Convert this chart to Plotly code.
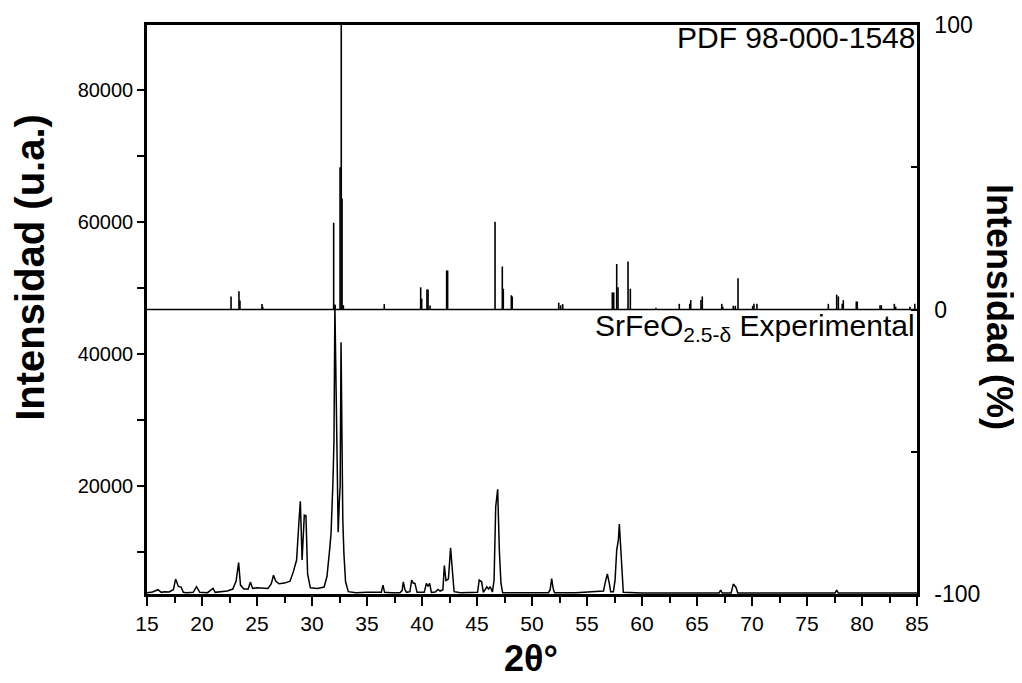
import plotly.graph_objects as go

# ---------------- data ----------------
# Experimental pattern (2theta in degrees, intensity in a.u.)
exp_2theta = [15.0, 15.5, 16.0, 16.3, 16.6, 17.0, 17.4, 17.6, 17.7, 17.85, 18.1, 18.3, 18.6,
              19.2, 19.5, 19.8, 20.5, 21.0, 21.2, 21.8, 22.3, 22.8, 23.1, 23.33, 23.5, 23.8,
              24.2, 24.4, 24.6, 25.0, 25.5, 26.0, 26.3, 26.5, 26.7, 27.0, 27.5, 28.0, 28.3,
              28.6, 28.8, 28.94, 29.1, 29.3, 29.45, 29.6, 29.85, 30.5, 31.1, 31.36, 31.6,
              31.73, 31.9, 32.0, 32.08, 32.18, 32.26, 32.38, 32.48, 32.56, 32.64, 32.72,
              32.8, 32.9, 33.05, 33.3, 34.0, 35.0, 35.8, 36.3, 36.45, 36.6, 37.2, 38.0,
              38.2, 38.3, 38.45, 38.6, 38.9, 39.06, 39.2, 39.36, 39.55, 40.2, 40.4, 40.55,
              40.7, 40.85, 41.2, 41.45, 41.65, 41.9, 42.03, 42.18, 42.4, 42.6, 42.79, 42.92,
              43.5, 44.5, 45.05, 45.2, 45.42, 45.58, 45.9, 46.05, 46.2, 46.4, 46.55, 46.7,
              46.88, 47.03, 47.18, 47.33, 48.5, 50.0, 51.5, 51.65, 51.79, 51.92, 52.05,
              54.0, 55.7, 56.2, 56.5, 56.64, 56.85, 57.03, 57.15, 57.4, 57.55, 57.7, 57.85,
              57.94, 58.06, 58.18, 58.3, 60.0, 62.5, 65.0, 67.0, 67.15, 67.3, 68.1, 68.3,
              68.55, 68.7, 70.0, 72.5, 75.0, 77.55, 77.7, 77.85, 80.0, 82.5, 85.0]
exp_intensity = [3850, 3950, 4300, 3900, 4000, 3950, 4300, 5900, 5500, 4800, 4700, 3900, 3850,
                 3900, 4750, 3900, 3850, 4500, 3900, 3950, 4100, 4400, 5600, 8400, 5000, 4400,
                 4400, 5450, 4500, 4600, 4500, 4500, 5200, 6500, 5600, 5200, 5300, 5600, 7000,
                 8800, 14300, 17700, 8800, 15600, 15500, 6700, 4600, 4500, 4700, 6300, 10300,
                 12800, 20400, 27000, 47500, 35000, 30000, 13000, 17500, 20000, 41800, 26500,
                 15000, 9800, 5500, 4000, 3850, 3900, 3850, 3900, 5000, 3900, 3850, 3850,
                 4200, 5500, 4300, 3900, 4000, 5750, 5300, 5250, 3900, 3900, 5250, 4800,
                 5250, 3900, 3950, 4350, 4100, 4300, 7950, 5700, 5900, 10650, 6600, 4000,
                 3850, 3850, 3900, 5750, 5500, 3900, 4750, 4400, 4750, 3950, 5700, 16850,
                 19500, 10300, 5250, 3850, 3850, 3850, 3850, 4300, 6000, 4500, 3850,
                 3850, 3950, 4000, 4100, 5250, 6700, 5250, 4000, 4000, 5700, 10300, 11800,
                 14250, 10300, 6700, 3900, 3800, 3800, 3800, 3800, 4250, 3800, 3800, 5150,
                 4650, 3800, 3800, 3800, 3800, 3800, 4250, 3800, 3800, 3800, 3800]

# Reference pattern PDF 98-000-1548 (2theta, relative intensity %)
ref_2theta = [22.64, 23.36, 23.45, 25.45, 25.52, 31.97, 32.1, 32.55, 32.66, 32.73, 32.85,
              36.57, 39.88, 39.97, 40.45, 40.55, 40.73, 42.24, 42.33, 46.64, 47.3, 47.39,
              48.12, 48.2, 52.43, 52.6, 52.79, 57.3, 57.43, 57.7, 57.82, 58.73, 58.94,
              61.27, 63.39, 64.34, 64.43, 65.36, 65.48, 67.25, 67.34, 68.3, 68.48, 68.73,
              70.06, 70.18, 70.45, 76.94, 77.7, 77.85, 78.2, 78.3, 79.48, 79.57, 81.64,
              81.76, 82.94, 83.06, 84.36, 84.8]
ref_intensity = [4.6, 6.4, 3.2, 1.9, 1.0, 30.5, 1.5, 50.0, 100.0, 39.0, 1.5,
                 1.9, 7.8, 3.8, 7.0, 7.0, 1.4, 13.7, 13.7, 30.8, 15.1, 7.3,
                 5.0, 4.6, 2.4, 1.5, 1.9, 6.0, 6.0, 16.0, 7.8, 16.9, 7.3,
                 0.6, 2.0, 2.0, 3.3, 3.3, 4.6, 2.0, 1.0, 1.3, 1.3, 11.0,
                 1.3, 2.0, 2.0, 2.0, 5.2, 4.6, 2.0, 3.3, 2.8, 2.8, 1.5,
                 1.5, 2.0, 1.0, 1.0, 2.0]

x_ticks = [15, 20, 25, 30, 35, 40, 45, 50, 55, 60, 65, 70, 75, 80, 85]
yl_ticks = [20000, 40000, 60000, 80000]
yr_ticks = [-100, 0, 100]
yr_labels = ["-100", "0", "100"]

# ---------------- figure ----------------
FONT = "Arial, Liberation Sans, Helvetica, sans-serif"

# stick segments built from the reference data
stick_x, stick_y = [], []
for t, h in zip(ref_2theta, ref_intensity):
    stick_x += [t, t, None]
    stick_y += [0, h, None]

fig = go.Figure()
fig.add_trace(go.Scatter(x=exp_2theta, y=exp_intensity, mode="lines",
                         line=dict(color="black", width=1.5), yaxis="y",
                         showlegend=False, hoverinfo="x+y"))
fig.add_trace(go.Scatter(x=stick_x, y=stick_y, mode="lines",
                         line=dict(color="black", width=1.6), yaxis="y2",
                         showlegend=False))

# divider at 0 % of the right axis
fig.add_shape(type="line", xref="paper", x0=0, x1=1, yref="y2", y0=0, y1=0,
              line=dict(color="black", width=1.5))

# the page body adds an 8px offset, so the figure is 8px smaller than the window
fig.update_layout(
    width=1014, height=675,
    margin=dict(l=139, r=105, t=17, b=89, autoexpand=False),
    paper_bgcolor="white", plot_bgcolor="white",
    font=dict(family=FONT, color="black"),
    xaxis=dict(range=[15, 85], tickvals=x_ticks, ticks="outside", ticklen=9, tickwidth=2,
               tickcolor="black", showline=True, linewidth=2.5, linecolor="black",
               mirror=True, showgrid=False, zeroline=False,
               tickfont=dict(size=21, family=FONT),
               minor=dict(dtick=2.5, tick0=15, ticks="outside", ticklen=6, tickwidth=2,
                          tickcolor="black", showgrid=False)),
    yaxis=dict(range=[3650, 89850], tickvals=yl_ticks, tickformat="d",
               ticks="outside", ticklen=7, tickwidth=2,
               tickcolor="black", showline=True, linewidth=2.5, linecolor="black",
               showgrid=False, zeroline=False, tickfont=dict(size=20, family=FONT),
               minor=dict(tickvals=[10000, 30000, 50000, 70000], ticks="outside", ticklen=7,
                          tickwidth=2, tickcolor="black", showgrid=False)),
    yaxis2=dict(range=[-100, 100], overlaying="y", side="right", tickvals=yr_ticks,
                ticktext=yr_labels,
                ticks="inside", ticklen=6, tickwidth=2, tickcolor="black",
                showline=True, linewidth=2.5, linecolor="black",
                showgrid=False, zeroline=False, tickfont=dict(size=23, family=FONT),
                ticklabelstandoff=10,
                minor=dict(tickvals=[-50, 50], ticks="inside", ticklen=6, tickwidth=2,
                           tickcolor="black", showgrid=False)),
)

fig.add_annotation(text="PDF 98-000-1548", xref="paper", yref="paper", x=1.0, y=1.0105,
                   xanchor="right", yanchor="top", showarrow=False,
                   font=dict(size=30, family=FONT, color="black"))
fig.add_annotation(text="SrFeO<sub>2.5-δ</sub> Experimental", xref="paper", yref="y2",
                   x=1.0, y=1.0, xanchor="right", yanchor="top", showarrow=False,
                   font=dict(size=30, family=FONT, color="black"))

# axis titles
fig.add_annotation(text="<b>Intensidad (u.a.)</b>", xref="paper", yref="paper",
                   x=-0.152, y=0.575, xanchor="center", yanchor="middle", textangle=-90,
                   showarrow=False, font=dict(size=40, family=FONT, color="black"))
fig.add_annotation(text="<b>Intensidad (%)</b>", xref="paper", yref="paper",
                   x=1.108, y=0.504, xanchor="center", yanchor="middle", textangle=90,
                   showarrow=False, font=dict(size=36, family=FONT, color="black"))
fig.add_annotation(text="<b>2θ°</b>", xref="paper", yref="paper",
                   x=0.499, y=-0.114, xanchor="center", yanchor="middle",
                   showarrow=False, font=dict(size=36, family=FONT, color="black"))

fig.write_html("out.html")
